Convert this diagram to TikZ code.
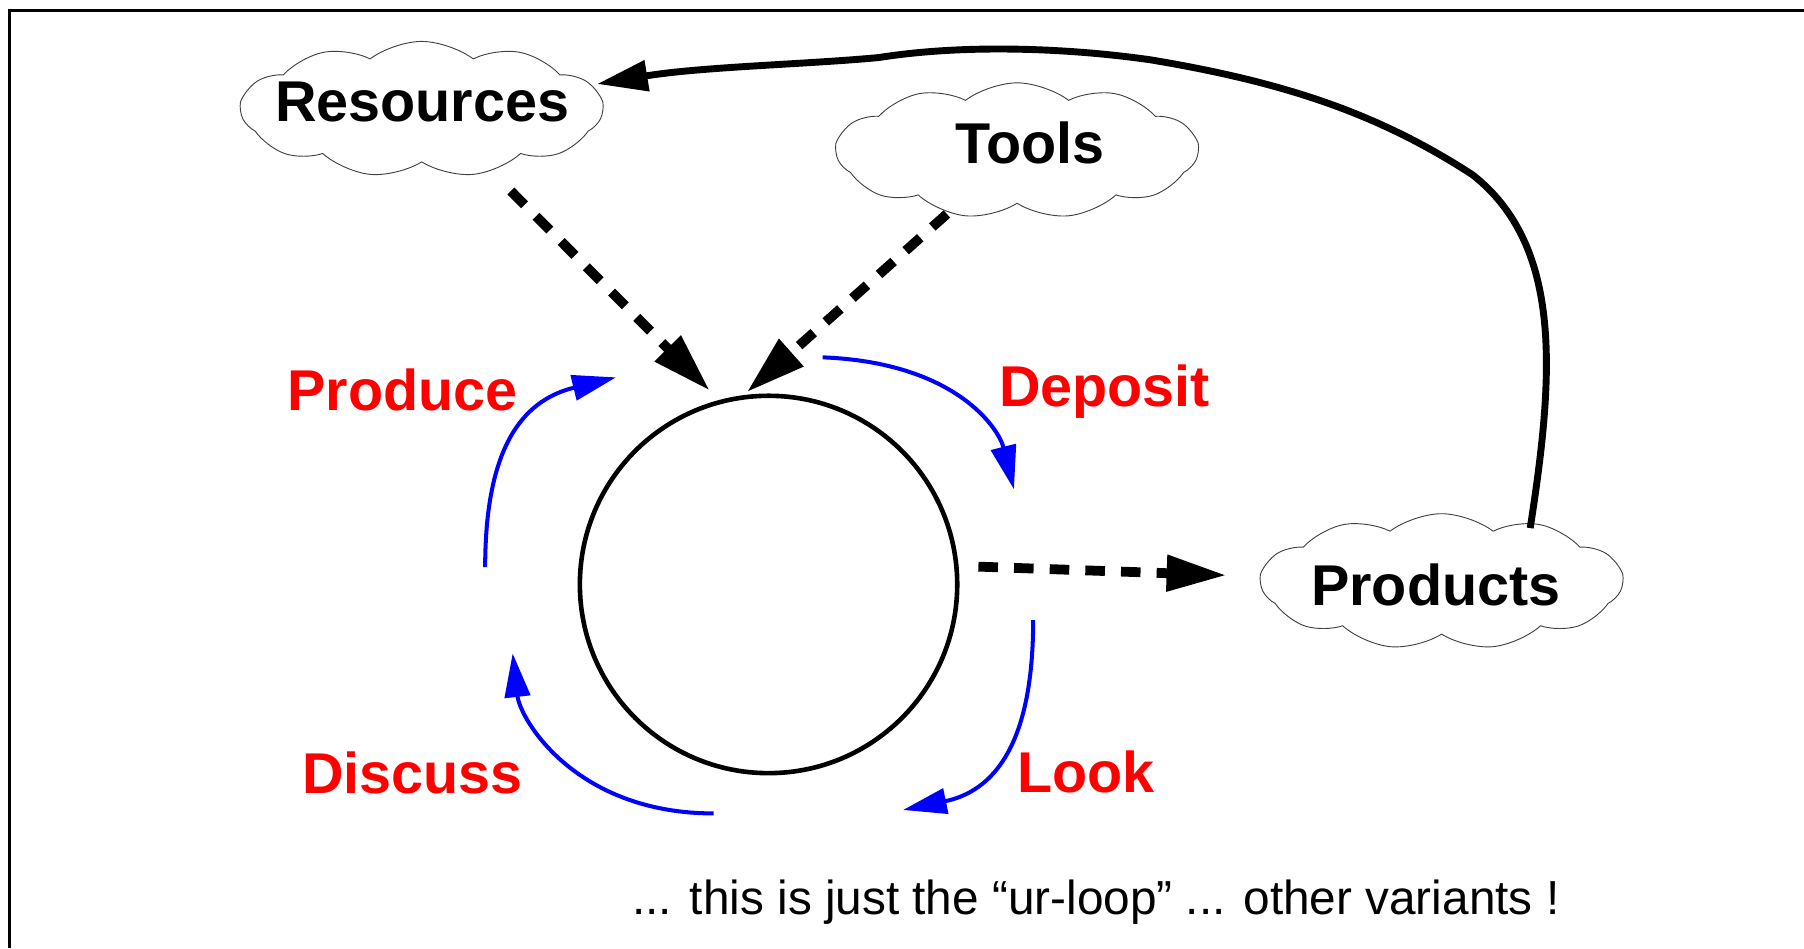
\documentclass[tikz,border=0pt]{standalone}
\usepackage{fontspec}
\setmainfont{Liberation Sans}
\usetikzlibrary{arrows.meta,shapes.symbols}
\definecolor{loopred}{RGB}{255,0,0}
\definecolor{loopblue}{RGB}{0,0,255}

\begin{document}
\begin{tikzpicture}[x=1pt,y=-1pt,
  cloudbox/.style={cloud, cloud puffs=11, cloud puff arc=75, cloud ignores aspect,
    draw=black!75, line width=0.8pt, inner sep=0pt,
    minimum width=314pt, minimum height=118pt},
  cloudtext/.style={font=\fontsize{50}{60}\selectfont\bfseries, anchor=base, inner sep=0pt},
  steplabel/.style={font=\fontsize{50}{60}\selectfont\bfseries, text=loopred, anchor=base, inner sep=0pt},
  feed/.style={line width=8.5pt, dash pattern=on 17pt off 14pt,
    -{Triangle[length=52pt,width=30pt]}},
  cyclearrow/.style={loopblue, line width=3.5pt, -{Triangle[length=38pt,width=22pt]}},
  backlink/.style={line width=6pt, line join=round, -{Triangle[length=44pt,width=26pt]}},
]
\useasboundingbox (0,0) rectangle (1568,824);

% frame (top and left edges)
\draw[line width=2.5pt] (8.3,824) -- (8.3,9.3) -- (1568,9.3);

% clouds
\node[cloudbox, shape border rotate=8] (res)  at (366.5,95)  {};
\node[cloudbox, shape border rotate=8] (tool) at (884,131)   {};
\node[cloudbox, shape border rotate=8] (prod) at (1253,505.5) {};
\node[cloudtext] (resT)  at (367,106)  {Resources};
\node[cloudtext] (toolT) at (895,142)  {Tools};
\node[cloudtext] (prodT) at (1248,526) {Products};

% the loop
\node[circle, draw, line width=4pt, minimum size=328pt, inner sep=0pt] (loop) at (668,508) {};

% step labels
\node[steplabel] (produce) at (350,357)   {Produce};
\node[steplabel] (deposit) at (960,353)   {Deposit};
\node[steplabel] (discuss) at (358.5,690) {Discuss};
\node[steplabel] (look)    at (944,689)   {Look};

% connector ends
\coordinate (resOut)  at (444,166);
\coordinate (loopInA) at (617,339.6);
\coordinate (toolOut) at (823,186);
\coordinate (loopInB) at (649,341);
\coordinate (loopOut) at (850.4,492.5);
\coordinate (prodIn)  at (1066,500);
\coordinate (prodTop) at (1330,459);
\coordinate (resIn)   at (519,73);

% inputs and output of the loop
\draw[feed] (resOut) -- (loopInA);
\draw[feed] (toolOut) -- (loopInB);
\draw[feed] (loopOut) -- (prodIn);

% products feed back into resources
\draw[backlink] (prodTop) .. controls (1350,330) and (1360,215) .. (1280,152)
  .. controls (1200,100) and (1120,72) .. (1000,52)
  .. controls (930,42) and (840,38) .. (764,50)
  .. controls (700,56) and (610,58) .. (resIn);

% the four steps of the cycle
\coordinate (produceA) at (421.7,493);
\coordinate (produceB) at (535.4,328);
\coordinate (depositA) at (715,310.6);
\coordinate (depositB) at (881.3,425.3);
\coordinate (lookA)    at (898,539);
\coordinate (lookB)    at (784.9,704);
\coordinate (discussA) at (620.3,707);
\coordinate (discussB) at (445.6,567.9);
\draw[cyclearrow] (produceA) .. controls (421.7,380) and (460,346.5) .. (produceB);
\draw[cyclearrow] (depositA) .. controls (830,315) and (868,372) .. (depositB);
\draw[cyclearrow] (lookA) .. controls (898,650) and (862,688) .. (lookB);
\draw[cyclearrow] (discussA) .. controls (500,707) and (452,625) .. (discussB);

% remark
\node[font=\fontsize{41.5}{50}\selectfont, anchor=base, inner sep=0pt] (remark) at (952.5,795)
  {... this is just the “ur-loop” ... other variants !};
\end{tikzpicture}
\end{document}
